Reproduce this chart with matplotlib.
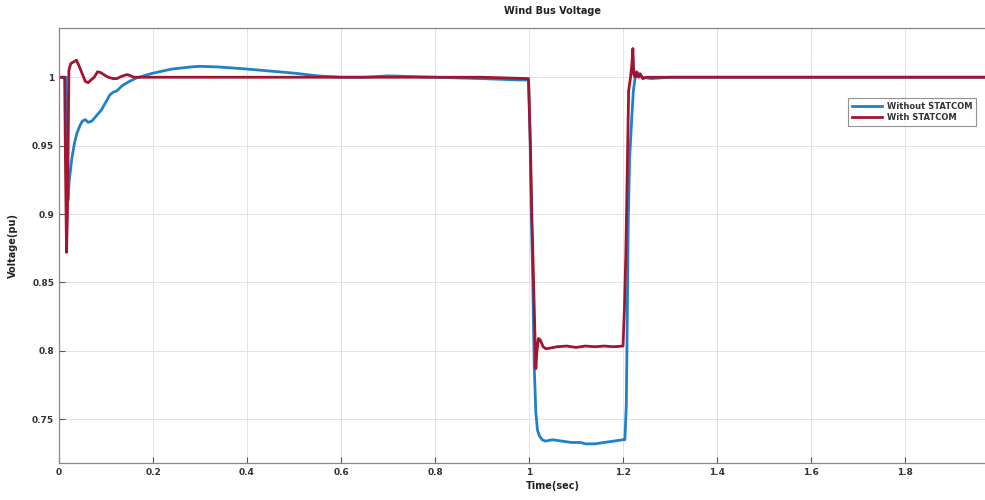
import numpy as np
import matplotlib.pyplot as plt

# Without STATCOM
t_without = [0, 0.015, 0.019, 0.022, 0.027, 0.033, 0.038, 0.045, 0.05, 0.056, 0.062, 0.07, 0.08, 0.09,
             0.1, 0.108, 0.115, 0.123, 0.135, 0.15, 0.165, 0.18, 0.2, 0.24, 0.28, 0.3, 0.34, 0.4, 0.45,
             0.5, 0.55, 0.6, 0.65, 0.7, 0.75, 0.8, 0.9, 0.98, 0.999, 1.002, 1.005, 1.008, 1.011, 1.0145,
             1.018, 1.022, 1.028, 1.035, 1.05, 1.07, 1.09, 1.11, 1.12, 1.14, 1.16, 1.18, 1.2, 1.204,
             1.207, 1.209, 1.211, 1.214, 1.218, 1.222, 1.226, 1.232, 1.24, 1.26, 1.3, 1.5, 2.1]
v_without = [1.0, 1.0, 0.91, 0.925, 0.94, 0.952, 0.959, 0.965, 0.968, 0.969, 0.967, 0.968, 0.972, 0.976,
             0.982, 0.987, 0.989, 0.990, 0.994, 0.997, 0.9995, 1.001, 1.003, 1.006, 1.0075, 1.008, 1.0075,
             1.006, 1.0045, 1.003, 1.001, 1.0, 1.0, 1.001, 1.0005, 1.0, 0.999, 0.998, 0.998, 0.96, 0.9,
             0.85, 0.79, 0.755, 0.742, 0.738, 0.735, 0.734, 0.735, 0.734, 0.733, 0.733, 0.732, 0.732,
             0.733, 0.734, 0.735, 0.735, 0.76, 0.82, 0.89, 0.94, 0.966, 0.99, 1.0, 1.003, 1.0, 0.999,
             1.0, 1.0, 1.0]

# With STATCOM
t_with = [0, 0.012, 0.014, 0.016, 0.018, 0.021, 0.025, 0.03, 0.037, 0.043, 0.05, 0.056, 0.062, 0.068,
          0.075, 0.082, 0.088, 0.095, 0.105, 0.115, 0.123, 0.132, 0.145, 0.16, 0.18, 0.3, 0.5, 0.7, 0.9,
          0.999, 1.003, 1.006, 1.009, 1.012, 1.0145, 1.017, 1.02, 1.024, 1.03, 1.036, 1.045, 1.06, 1.08,
          1.1, 1.12, 1.14, 1.16, 1.18, 1.2, 1.203, 1.206, 1.209, 1.212, 1.216, 1.219, 1.221, 1.223,
          1.226, 1.229, 1.233, 1.237, 1.242, 1.25, 1.26, 1.3, 2.1]
v_with = [1.0, 1.0, 0.93, 0.872, 0.9, 1.005, 1.01, 1.011, 1.0125, 1.008, 1.002, 0.997, 0.996, 0.998,
          1.0, 1.004, 1.0035, 1.002, 1.0, 0.999, 0.999, 1.0005, 1.002, 1.0, 1.0, 1.0, 1.0, 1.0, 1.0,
          0.999, 0.95, 0.9, 0.86, 0.82, 0.787, 0.80, 0.809, 0.808, 0.803, 0.8015, 0.802, 0.803, 0.8035,
          0.8025, 0.8035, 0.803, 0.8035, 0.803, 0.8035, 0.83, 0.87, 0.93, 0.99, 1.0, 1.01, 1.021, 1.002,
          1.0, 1.004, 1.0, 1.0025, 0.999, 1.0, 1.0, 1.0, 1.0]

x_ticks = [0, 0.2, 0.4, 0.6, 0.8, 1.0, 1.2, 1.4, 1.6, 1.8]
x_labels = ['0', '0.2', '0.4', '0.6', '0.8', '1', '1.2', '1.4', '1.6', '1.8']
y_ticks = [0.75, 0.8, 0.85, 0.9, 0.95, 1.0]
y_labels = ['0.75', '0.8', '0.85', '0.9', '0.95', '1']

W, H = 985, 500
fig = plt.figure(figsize=(W / 100, H / 100), dpi=100)
# axes runs past the right edge of the picture (cropped screenshot)
left, right, top, bottom = 59, 1046, 28, 463
ax = fig.add_axes([left / W, 1 - bottom / H, (right - left) / W, (bottom - top) / H])

ax.plot(t_without, v_without, color='#1f82c8', linewidth=2.0, label='Without STATCOM')
ax.plot(t_with, v_with, color='#a2142f', linewidth=2.0, label='With STATCOM')

ax.set_xlim(0, 2.1)
ax.set_ylim(0.718, 1.036)
ax.set_xticks(x_ticks)
ax.set_xticklabels(x_labels)
ax.set_yticks(y_ticks)
ax.set_yticklabels(y_labels)
ax.tick_params(direction='in', length=4, width=0.8, colors='#555555', labelsize=6.5,
               labelcolor='#333333')
for lab in ax.get_xticklabels() + ax.get_yticklabels():
    lab.set_fontweight('bold')
for s in ax.spines.values():
    s.set_color('#888888')
    s.set_linewidth(0.9)
ax.grid(True, color='#e2e2e2', linewidth=0.7)
ax.set_axisbelow(True)

ax.set_title('Wind Bus Voltage', fontsize=7, fontweight='bold', color='#222222', pad=10)
ax.set_xlabel('Time(sec)', fontsize=7, fontweight='bold', color='#222222', labelpad=3)
ax.set_ylabel('Voltage(pu)', fontsize=7, fontweight='bold', color='#222222', labelpad=10)

leg = ax.legend(loc='upper left', bbox_to_anchor=(848 / W, 1 - 98 / H), bbox_transform=fig.transFigure,
                fontsize=6, frameon=True, fancybox=False, handlelength=3.6, borderpad=0.45,
                labelspacing=0.25, handletextpad=0.6, borderaxespad=0)
leg.get_frame().set_edgecolor('#777777')
leg.get_frame().set_linewidth(0.8)
for txt in leg.get_texts():
    txt.set_fontweight('bold')
    txt.set_color('#333333')

fig.savefig('out.png', dpi=100)
